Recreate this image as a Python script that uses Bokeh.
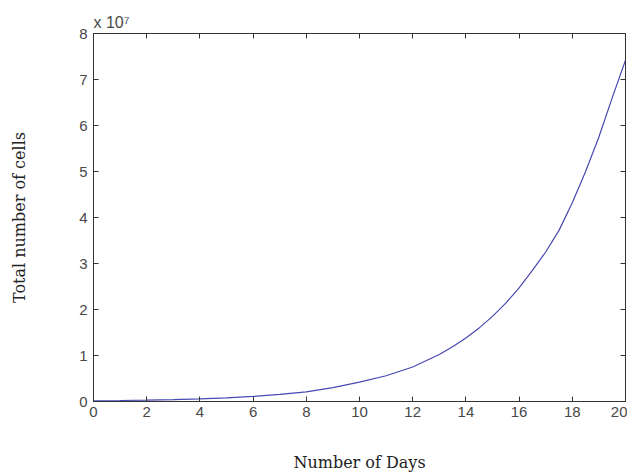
from bokeh.plotting import figure
from bokeh.models import Range1d, FixedTicker, LinearAxis, ColumnDataSource
from bokeh.embed import file_html
from bokeh.resources import INLINE

# Data (cells in units of 10^7)
days = [0, 1, 2, 3, 4, 5, 6, 7, 8, 9, 10, 11, 12, 13, 13.5, 14, 14.5, 15, 15.5,
        16, 16.5, 17, 17.5, 18, 18.5, 19, 19.5, 20]
cells_e7 = [0.016, 0.022, 0.030, 0.042, 0.058, 0.080, 0.110, 0.155, 0.21, 0.30,
            0.42, 0.56, 0.75, 1.02, 1.19, 1.38, 1.60, 1.85, 2.14,
            2.47, 2.85, 3.25, 3.72, 4.32, 5.00, 5.75, 6.60, 7.42]
x_ticks = [0, 2, 4, 6, 8, 10, 12, 14, 16, 18, 20]
y_ticks = [0, 1, 2, 3, 4, 5, 6, 7, 8]
x_title = "Number of Days"
y_title = "Total number of cells"
exp_text = "x 10\u2077"

src = ColumnDataSource(dict(days=days, cells=cells_e7))

p = figure(width=627, height=474, output_backend="svg", toolbar_location=None,
           x_range=Range1d(0, 20), y_range=Range1d(0, 8),
           min_border_left=93, min_border_right=2, min_border_top=33, min_border_bottom=73)
p.xgrid.visible = False
p.ygrid.visible = False
p.background_fill_color = "white"
p.outline_line_color = "#333333"

tick_font = "Liberation Sans"
axis_col = "#333333"
lab_col = "#484848"

p.title.text = exp_text
p.title.align = "left"
p.title.offset = 0
p.title.standoff = 5
p.title.text_font = tick_font
p.title.text_font_style = "normal"
p.title.text_font_size = "16px"
p.title.text_color = lab_col

def style(ax, labels=True):
    ax.major_tick_in = 5
    ax.major_tick_out = 0
    ax.minor_tick_line_color = None
    ax.axis_line_color = axis_col
    ax.major_tick_line_color = axis_col
    ax.major_label_text_font = tick_font
    ax.major_label_text_color = lab_col
    ax.major_label_text_font_size = "15px"
    if not labels:
        ax.major_label_overrides = {t: "" for t in ax.ticker.ticks}
        ax.major_label_standoff = 0

xa = p.xaxis[0]
ya = p.yaxis[0]
xa.ticker = FixedTicker(ticks=x_ticks)
ya.ticker = FixedTicker(ticks=y_ticks)
style(xa)
style(ya)
xa.major_label_standoff = 5
ya.major_label_standoff = 6
xa.axis_label = x_title
ya.axis_label = y_title
for ax in (xa, ya):
    ax.axis_label_text_font = "DejaVu Serif"
    ax.axis_label_text_font_style = "normal"
    ax.axis_label_text_font_size = "16px"
    ax.axis_label_text_color = "#222222"
xa.axis_label_standoff = 33
ya.axis_label_standoff = 47

top = LinearAxis(ticker=FixedTicker(ticks=x_ticks))
style(top, labels=False)
p.add_layout(top, "above")
right = LinearAxis(ticker=FixedTicker(ticks=y_ticks))
style(right, labels=False)
p.add_layout(right, "right")

p.line("days", "cells", source=src, line_color="#4848b2", line_width=1.2)

open("out.html", "w").write(file_html(p, INLINE))
